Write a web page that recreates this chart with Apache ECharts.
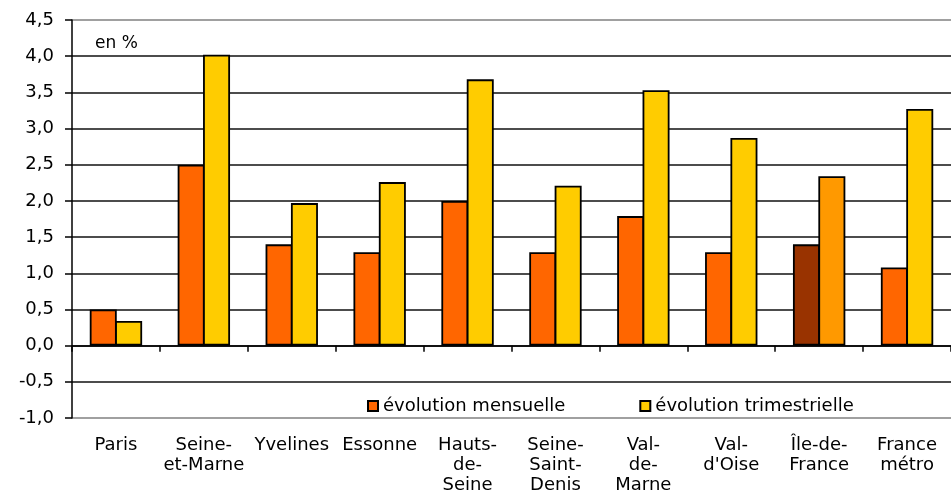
<!DOCTYPE html>
<html>
<head>
<meta charset="utf-8">
<script src="https://cdn.jsdelivr.net/npm/echarts@6/dist/echarts.min.js"></script>
<style>html,body{margin:0;padding:0;background:#fff}#c{width:951px;height:498px}</style>
</head>
<body>
<div id="c"></div>
<script>
var categories = ["Paris", "Seine-\net-Marne", "Yvelines", "Essonne", "Hauts-\nde-\nSeine", "Seine-\nSaint-\nDenis", "Val-\nde-\nMarne", "Val-\nd'Oise", "Île-de-\nFrance", "France\nmétro"];
var mensuelle = [0.50, 2.50, 1.40, 1.29, 2.00, 1.29, 1.79, 1.29, 1.40, 1.08];
var trimestrielle = [0.34, 4.02, 1.97, 2.26, 3.68, 2.21, 3.53, 2.87, 2.34, 3.27];
var seriesNames = ["évolution mensuelle", "évolution trimestrielle"];
var highlightIndex = 8;

var FONT = "DejaVu Sans";
function mk(vals, hiColor) {
  return vals.map(function (v, i) {
    return i === highlightIndex ? { value: v, itemStyle: { color: hiColor } } : v;
  });
}
var splitColors = [];
for (var k = 0; k < 12; k++) splitColors.push(k === 0 || k === 11 ? '#808080' : '#111');

var chart = echarts.init(document.getElementById('c'), null, { renderer: 'canvas' });
chart.setOption({
  animation: false,
  backgroundColor: '#fff',
  textStyle: { fontFamily: FONT },
  grid: { left: 72, right: -10, top: 20, bottom: 80, containLabel: false },
  legend: {
    left: 362, top: 392,
    itemWidth: 10, itemHeight: 10, itemGap: 74,
    icon: 'rect',
    textStyle: { fontFamily: FONT, fontSize: 18, color: '#000' },
    data: seriesNames
  },
  graphic: [{
    type: 'text', left: 95, top: 35,
    style: { text: 'en %', font: '17px "DejaVu Sans"', fill: '#000' }
  }],
  xAxis: [{
    type: 'category', data: categories, position: 'bottom',
    axisLine: { show: false, onZero: false },
    axisTick: { show: false },
    axisLabel: { interval: 0, margin: 17, fontFamily: FONT, fontSize: 18, color: '#000', lineHeight: 20 }
  }, {
    type: 'category', data: categories, position: 'top',
    axisLine: { show: true, onZero: true, lineStyle: { color: '#000', width: 1.5 } },
    axisTick: { show: true, inside: true, length: 6, lineStyle: { color: '#000', width: 1.5 } },
    axisLabel: { show: false }
  }],
  yAxis: {
    type: 'value', min: -1, max: 4.5, interval: 0.5,
    axisLine: { show: true, lineStyle: { color: '#000', width: 1.5 } },
    axisTick: { show: true, length: 7, lineStyle: { color: '#000', width: 1.5 } },
    axisLabel: {
      margin: 18, fontFamily: FONT, fontSize: 18, color: '#000',
      formatter: function (v) { return v.toFixed(1).replace('.', ','); }
    },
    splitLine: { show: true, lineStyle: { color: splitColors, width: 1.6 } }
  },
  series: [{
    name: seriesNames[0], type: 'bar', xAxisIndex: 0,
    data: mk(mensuelle, '#993300'),
    barWidth: 27, barGap: '-6%',
    itemStyle: { color: '#FF6600', borderColor: '#000', borderWidth: 1.8 }
  }, {
    name: seriesNames[1], type: 'bar', xAxisIndex: 0,
    data: mk(trimestrielle, '#FF9900'),
    barWidth: 27, barGap: '-6%',
    itemStyle: { color: '#FFCC00', borderColor: '#000', borderWidth: 1.8 }
  }]
});
</script>
</body>
</html>
